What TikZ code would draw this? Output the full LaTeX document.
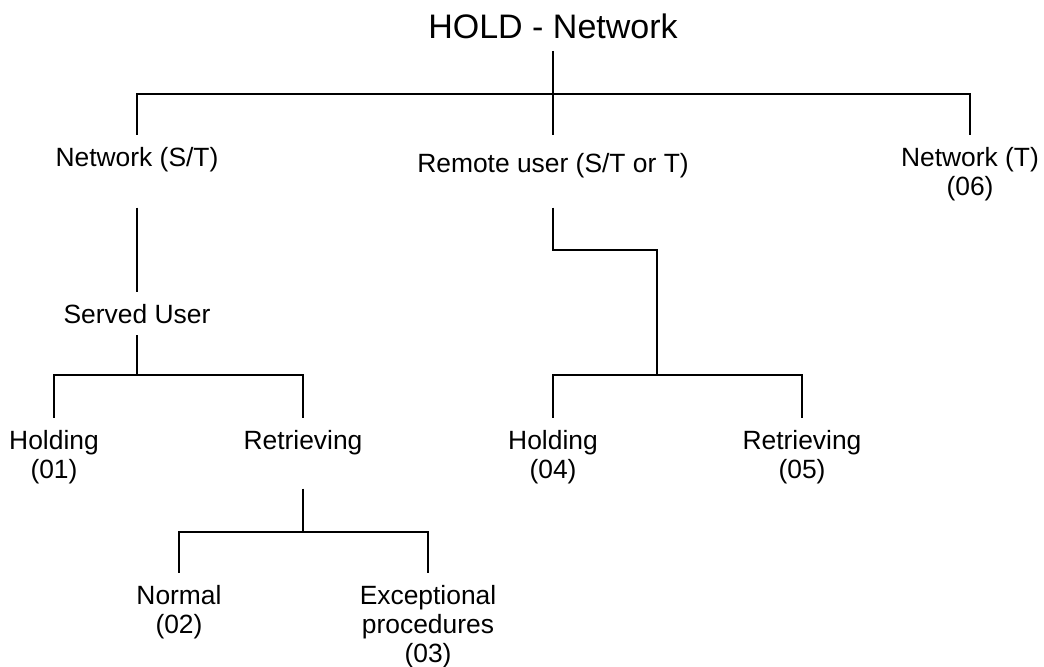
\documentclass[tikz,border=0pt]{standalone}
\usepackage{fontspec}
\setmainfont{Liberation Sans}

\begin{document}
\begin{tikzpicture}[x=0.5pt,y=-0.5pt]
        \tikzstyle{every path}=[line width=1.1pt]
        \tikzstyle{lbl}=[align=center,inner sep=0pt,outer sep=6pt,anchor=north,font=\fontsize{13.2}{14.5}\selectfont]
        \tikzstyle{ttl}=[inner sep=0pt,outer sep=6pt,anchor=south,font=\fontsize{17}{20}\selectfont]

        \useasboundingbox (0,0) rectangle (1044,667);

        \node [ttl] (title) at (553,51) {HOLD - Network};

        \node [lbl] (netST)  at (137,135) {Network (S/T)};
        \node [lbl] (remote) at (553,141) {Remote user (S/T or T)};
        \node [lbl] (netT)   at (970,135) {Network (T)\\(06)};

        \node [lbl] (served) at (137,292) {Served User};

        \node [lbl] (hold01) at (54,418)  {Holding\\(01)};
        \node [lbl] (retr)   at (303,418) {Retrieving};
        \node [lbl] (hold04) at (553,418) {Holding\\(04)};
        \node [lbl] (retr05) at (802,418) {Retrieving\\(05)};

        \node [lbl] (normal) at (179,573) {Normal\\(02)};
        \node [lbl] (excep)  at (428,573) {Exceptional\\procedures\\(03)};

        \coordinate (busTop) at (553,94);
        \coordinate (busSU) at (137,375);
        \coordinate (elbow) at (657,250);
        \coordinate (busRU) at (657,375);
        \coordinate (busRt) at (303,532);

        \draw[shorten >=3pt] (title.south) -- (remote.north);
        \draw (netST.north) |- (busTop) -| (netT.north);

        \draw[shorten <=12pt] (netST.south) -- (served.north);
        \draw (served.south) -- (busSU);
        \draw (hold01.north) |- (busSU) -| (retr.north);

        \draw[shorten <=9pt] (remote.south) |- (elbow) -- (busRU);
        \draw (hold04.north) |- (busRU) -| (retr05.north);

        \draw[shorten <=11pt] (retr.south) -- (busRt);
        \draw (normal.north) |- (busRt) -| (excep.north);
\end{tikzpicture}
\end{document}
